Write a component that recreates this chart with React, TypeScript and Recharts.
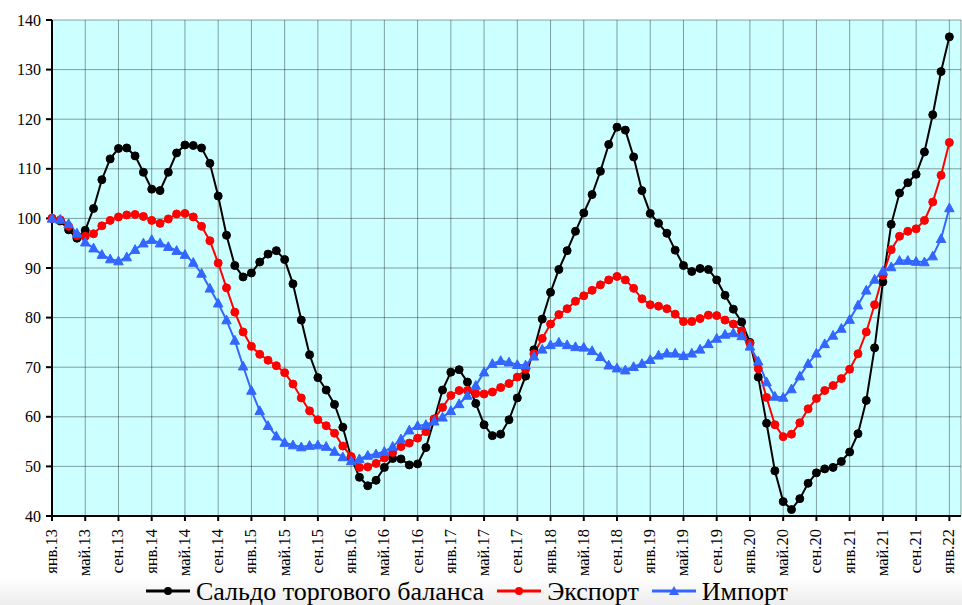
import React from 'react';
import { LineChart, Line, XAxis, YAxis, CartesianGrid, Legend } from 'recharts';

const tickLabels = [
  'янв.13', 'май.13', 'сен.13', 'янв.14', 'май.14', 'сен.14', 'янв.15', 'май.15', 'сен.15',
  'янв.16', 'май.16', 'сен.16', 'янв.17', 'май.17', 'сен.17', 'янв.18', 'май.18', 'сен.18',
  'янв.19', 'май.19', 'сен.19', 'янв.20', 'май.20', 'сен.20', 'янв.21', 'май.21', 'сен.21', 'янв.22',
];
const tickPositions = tickLabels.map((_, k) => k * 4);

const yTicks = [40, 50, 60, 70, 80, 90, 100, 110, 120, 130, 140];

const seriesNames = ['Сальдо торгового баланса', 'Экспорт', 'Импорт'];

const saldo = [
  100, 99.5, 97.7, 96.0, 97.6, 102.0, 107.8, 112.0, 114.1, 114.2, 112.6, 109.3, 105.9, 105.6, 109.3, 113.2,
  114.8, 114.7, 114.2, 111.1, 104.5, 96.6, 90.5, 88.2, 89.0, 91.2, 92.8, 93.5, 91.7, 86.8, 79.5, 72.5,
  67.9, 65.4, 62.5, 57.9, 51.8, 47.8, 46.1, 47.2, 49.8, 51.6, 51.5, 50.3, 50.5, 53.8, 59.4, 65.4,
  69.0, 69.5, 67.0, 62.7, 58.4, 56.2, 56.5, 59.4, 63.8, 68.2, 73.5, 79.7, 85.1, 89.7, 93.5, 97.4,
  101.1, 104.8, 109.5, 114.9, 118.4, 117.8, 112.4, 105.6, 101.0, 99.0, 97.0, 93.6, 90.5, 89.3, 89.9, 89.7,
  87.6, 84.5, 81.7, 79.1, 75.0, 68.0, 58.7, 49.1, 42.9, 41.3, 43.5, 46.6, 48.7, 49.5, 49.8, 51.0,
  52.9, 56.6, 63.3, 73.9, 87.2, 98.8, 105.1, 107.2, 108.9, 113.4, 120.9, 129.6, 136.6,
];

const exportIdx = [
  100, 99.7, 98.4, 96.5, 96.4, 96.9, 98.5, 99.6, 100.3, 100.7, 100.8, 100.4, 99.6, 99.0, 99.9, 100.9,
  101.0, 100.3, 98.4, 95.5, 91.0, 86.0, 81.1, 77.1, 74.2, 72.6, 71.4, 70.3, 68.9, 66.6, 63.8, 61.2,
  59.4, 58.2, 56.7, 54.1, 52.0, 49.8, 49.9, 50.6, 51.7, 52.8, 54.0, 54.7, 55.7, 57.0, 59.6, 61.9,
  64.3, 65.3, 65.3, 64.7, 64.6, 65.0, 65.9, 66.7, 68.0, 69.6, 72.7, 75.8, 78.7, 80.6, 81.8, 83.3,
  84.4, 85.5, 86.6, 87.6, 88.3, 87.6, 85.9, 83.8, 82.6, 82.3, 81.8, 80.7, 79.2, 79.2, 79.8, 80.5,
  80.4, 79.5, 78.7, 77.3, 74.8, 69.7, 63.9, 58.4, 56.0, 56.5, 58.8, 61.6, 63.7, 65.3, 66.3, 67.7,
  69.6, 72.7, 77.1, 82.6, 88.5, 93.7, 96.4, 97.4, 97.9, 99.6, 103.3, 108.7, 115.3,
];

const importIdx = [
  100, 99.8, 98.9, 97.0, 95.2, 94.0, 92.7, 91.8, 91.4, 92.2, 93.7, 95.0, 95.7, 95.0, 94.3, 93.5,
  92.7, 91.1, 88.9, 85.9, 82.9, 79.5, 75.4, 70.2, 65.3, 61.2, 58.2, 56.1, 54.8, 54.3, 53.9, 54.2,
  54.3, 54.0, 53.0, 51.9, 51.1, 51.5, 52.2, 52.5, 53.0, 54.0, 55.5, 57.3, 58.2, 58.4, 59.1, 59.9,
  61.2, 62.6, 64.3, 66.3, 69.0, 70.7, 71.3, 71.0, 70.5, 70.4, 72.2, 73.6, 74.5, 75.0, 74.5, 74.1,
  74.0, 73.3, 72.1, 70.4, 69.8, 69.4, 70.1, 70.7, 71.5, 72.4, 72.8, 72.8, 72.3, 72.8, 73.6, 74.7,
  75.8, 76.6, 76.9, 76.3, 74.2, 71.2, 67.0, 64.1, 63.9, 65.6, 68.2, 70.7, 72.8, 74.7, 76.4, 77.8,
  79.6, 82.5, 85.5, 87.7, 89.4, 90.2, 91.5, 91.5, 91.3, 91.2, 92.4, 95.9, 102.1,
];

const data = saldo.map((v, i) => ({ i, saldo: v, exp: exportIdx[i], imp: importIdx[i] }));

const FONT = '"Liberation Serif", "Times New Roman", serif';
const BLUE = '#3366ff';
const RED = '#ff0000';

const TriangleDot = (props: any) => {
  const { cx, cy, index } = props;
  if (cx == null || cy == null) return null;
  const s = 5;
  return (
    <polygon
      key={`tri-${index}`}
      points={`${cx},${cy - s} ${cx - s * 0.95},${cy + s * 0.75} ${cx + s * 0.95},${cy + s * 0.75}`}
      fill={BLUE}
      stroke={BLUE}
      strokeWidth={1}
    />
  );
};

const XTick = (props: any) => {
  const { x, y, payload } = props;
  const k = tickPositions.indexOf(payload.value);
  return (
    <text
      transform={`translate(${x + 5},${y + 6}) rotate(-90)`}
      textAnchor="end"
      fontFamily={FONT}
      fontSize={16.5}
      fill="#000"
    >
      {tickLabels[k]}
    </text>
  );
};

const LegendIcon = ({ color, tri }: { color: string; tri?: boolean }) => (
  <svg width={46} height={16} style={{ verticalAlign: 'middle', marginRight: 5, flex: '0 0 auto' }}>
    <line x1={1} y1={8} x2={45} y2={8} stroke={color} strokeWidth={3} />
    {tri ? (
      <polygon points="23,3 18,12 28,12" fill={color} />
    ) : (
      <circle cx={23} cy={8} r={4} fill={color} />
    )}
  </svg>
);

const itemStyle: React.CSSProperties = {
  display: 'flex',
  alignItems: 'center',
  whiteSpace: 'nowrap',
  marginRight: 12,
};

const LegendContent = () => (
  <div
    style={{
      height: 28,
      width: 962,
      display: 'flex',
      justifyContent: 'flex-start',
      alignItems: 'center',
      fontFamily: FONT,
      fontSize: 26,
      lineHeight: '27px',
      color: '#000',
      background: 'linear-gradient(to bottom, #ffffff, #ededed)',
      paddingLeft: 145,
      boxSizing: 'border-box',
    }}
  >
    <span style={itemStyle}>
      <LegendIcon color="#000" />
      {seriesNames[0]}
    </span>
    <span style={itemStyle}>
      <LegendIcon color={RED} />
      {seriesNames[1]}
    </span>
    <span style={itemStyle}>
      <LegendIcon color={BLUE} tri />
      {seriesNames[2]}
    </span>
  </div>
);

export default function App() {
  return (
    <div style={{ position: 'absolute', left: 0, top: 0, width: 962, height: 605, background: '#fff' }}>
      <LineChart
        width={962}
        height={605}
        data={data}
        margin={{ top: 20, right: 1, left: 0, bottom: 0 }}
      >
        <CartesianGrid
          fill="#ccffff"
          fillOpacity={1}
          stroke="#000"
          strokeOpacity={0.38}
          strokeWidth={1}
        />
        <XAxis
          dataKey="i"
          type="number"
          domain={[0, 109.4]}
          ticks={tickPositions}
          interval={0}
          height={61}
          tick={<XTick />}
          axisLine={{ stroke: '#000', strokeWidth: 2 }}
          tickLine={{ stroke: '#000', strokeWidth: 2 }}
          tickSize={5}
        />
        <YAxis
          type="number"
          domain={[40, 140]}
          ticks={yTicks}
          interval={0}
          width={52}
          axisLine={{ stroke: '#000', strokeWidth: 2 }}
          tickLine={{ stroke: '#000', strokeWidth: 2 }}
          tickSize={6}
          tickMargin={5}
          tick={{ fontFamily: FONT, fontSize: 16, fill: '#000' }}
        />
        <Legend verticalAlign="bottom" align="left" content={<LegendContent />} />
        <Line
          dataKey="saldo"
          name={seriesNames[0]}
          stroke="#000"
          strokeWidth={2}
          dot={{ r: 4, fill: '#000', stroke: '#000', strokeWidth: 1 }}
          isAnimationActive={false}
        />
        <Line
          dataKey="exp"
          name={seriesNames[1]}
          stroke={RED}
          strokeWidth={2}
          dot={{ r: 4, fill: RED, stroke: RED, strokeWidth: 1 }}
          isAnimationActive={false}
        />
        <Line
          dataKey="imp"
          name={seriesNames[2]}
          stroke={BLUE}
          strokeWidth={2}
          dot={TriangleDot}
          isAnimationActive={false}
        />
      </LineChart>
    </div>
  );
}
